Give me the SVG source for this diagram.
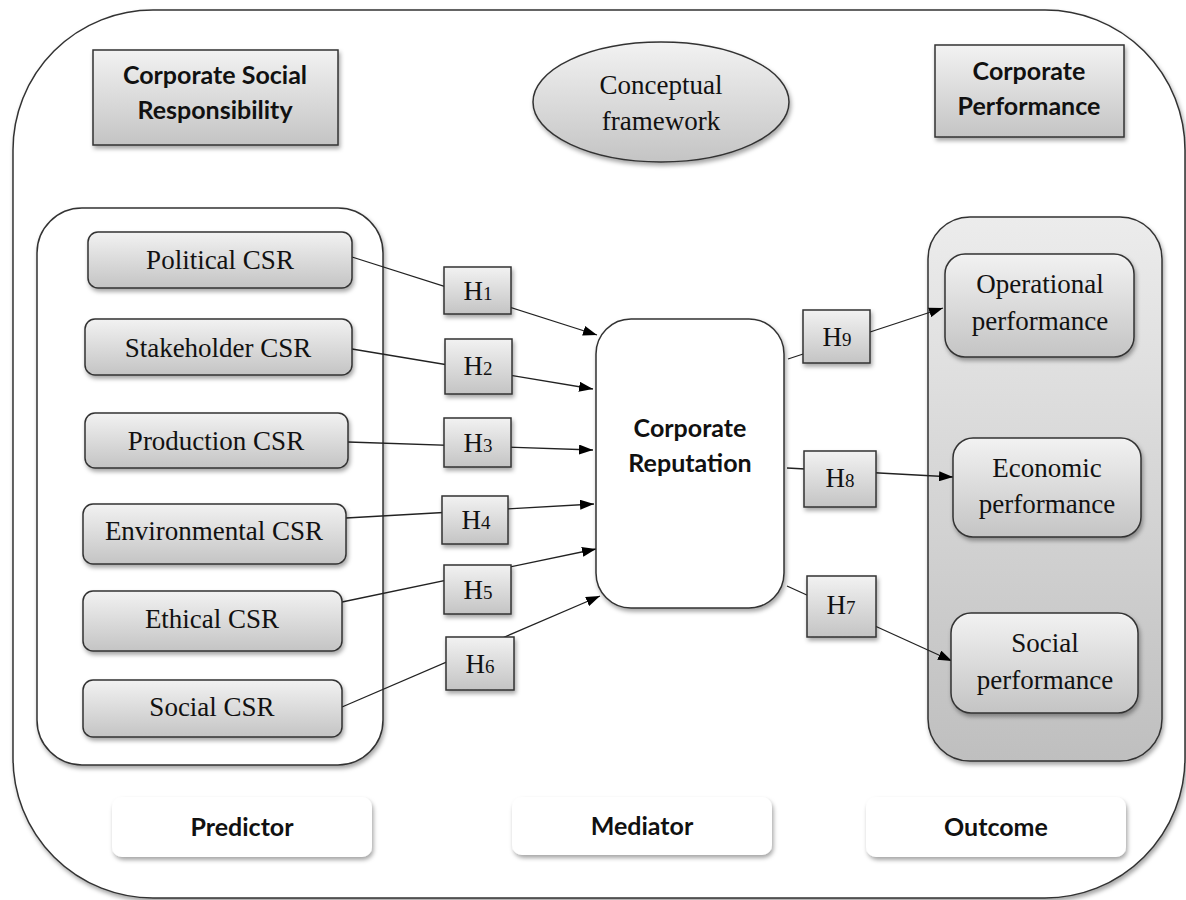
<svg xmlns="http://www.w3.org/2000/svg" width="1186" height="900" viewBox="0 0 1186 900">
  <defs>
    <linearGradient id="gBox" x1="0" y1="0" x2="0" y2="1">
      <stop offset="0" stop-color="#f2f2f2"/>
      <stop offset="1" stop-color="#c4c4c4"/>
    </linearGradient>
    <linearGradient id="gPanel" x1="0" y1="0" x2="0" y2="1">
      <stop offset="0" stop-color="#ececec"/>
      <stop offset="1" stop-color="#bfbfbf"/>
    </linearGradient>
    <filter id="shadow" x="-10%" y="-10%" width="130%" height="140%">
      <feDropShadow dx="1.5" dy="3" stdDeviation="2" flood-color="#000" flood-opacity="0.35"/>
    </filter>
    <marker id="arrow" viewBox="0 0 14 10" refX="14" refY="5" markerWidth="14" markerHeight="10" markerUnits="userSpaceOnUse" orient="auto">
      <path d="M0,0 L14,5 L0,10 Z" fill="#000"/>
    </marker>
    <style>
      .frame { fill: #fff; stroke: #333; stroke-width: 1.5; }
      .box { fill: url(#gBox); stroke: #333; stroke-width: 1.5; filter: url(#shadow); }
      .panel { fill: url(#gPanel); stroke: #333; stroke-width: 1.5; filter: url(#shadow); }
      .plain { fill: #fff; stroke: #333; stroke-width: 1.5; filter: url(#shadow); }
      .tag { fill: #fff; stroke: none; filter: url(#shadow); }
      .serif { font-family: "Liberation Serif", "Times New Roman", serif; font-size: 27px; fill: #111; text-anchor: middle; }
      .bold { font-family: Lato, "Open Sans", "Liberation Sans", sans-serif; font-weight: bold; font-size: 25px; fill: #111; text-anchor: middle; }
      .sub { font-size: 19px; }
      .edge { stroke: #222; stroke-width: 1.3; fill: none; }
      .edge.arr { marker-end: url(#arrow); }
    </style>
  </defs>

  <!-- outer frame -->
  <rect id="frame" class="frame" x="13" y="10" width="1172" height="888" rx="140" ry="140" filter="url(#shadow)"/>

  <!-- headings -->
  <g id="csr-title">
    <rect class="box" x="93" y="50" width="245" height="95"/>
    <text class="bold" x="215" y="84">Corporate Social</text>
    <text class="bold" x="215" y="119">Responsibility</text>
  </g>
  <g id="concept">
    <ellipse class="box" cx="661" cy="102" rx="128" ry="60"/>
    <text class="serif" x="661" y="94">Conceptual</text>
    <text class="serif" x="661" y="130">framework</text>
  </g>
  <g id="cp-title">
    <rect class="box" x="935" y="45" width="189" height="92"/>
    <text class="bold" x="1029" y="80">Corporate</text>
    <text class="bold" x="1029" y="115">Performance</text>
  </g>

  <!-- predictor group -->
  <g id="predictors">
    <rect class="plain" x="37" y="208" width="346" height="557" rx="45" ry="45"/>
  </g>

  <!-- outcome group -->
  <g id="outcomes">
    <rect class="panel" x="928" y="217" width="234" height="544" rx="42" ry="42"/>
  </g>

  <!-- connectors -->
  <g id="connectors">
    <line class="edge arr" x1="352" y1="257" x2="597" y2="335"/>
    <line class="edge arr" x1="352" y1="349" x2="593" y2="389"/>
    <line class="edge arr" x1="348" y1="442" x2="593" y2="450"/>
    <line class="edge arr" x1="346" y1="518" x2="594" y2="504"/>
    <line class="edge arr" x1="342" y1="602" x2="596" y2="549"/>
    <line class="edge arr" x1="342" y1="707" x2="600" y2="596"/>
    <line class="edge arr" x1="788" y1="359" x2="943" y2="308"/>
    <line class="edge arr" x1="787" y1="468" x2="953" y2="477"/>
    <line class="edge arr" x1="787" y1="586" x2="952" y2="661"/>
  </g>

  <!-- CSR dimensions -->
  <g id="political-csr">
    <rect class="box" x="88" y="232" width="264" height="56" rx="10"/>
    <text class="serif" x="220" y="269">Political CSR</text>
  </g>
  <g id="stakeholder-csr">
    <rect class="box" x="85" y="319" width="267" height="56" rx="10"/>
    <text class="serif" x="218" y="357">Stakeholder CSR</text>
  </g>
  <g id="production-csr">
    <rect class="box" x="85" y="413" width="263" height="55" rx="10"/>
    <text class="serif" x="216" y="450">Production CSR</text>
  </g>
  <g id="environmental-csr">
    <rect class="box" x="83" y="504" width="263" height="60" rx="10"/>
    <text class="serif" x="214" y="540">Environmental CSR</text>
  </g>
  <g id="ethical-csr">
    <rect class="box" x="83" y="591" width="259" height="60" rx="10"/>
    <text class="serif" x="212" y="628">Ethical CSR</text>
  </g>
  <g id="social-csr">
    <rect class="box" x="83" y="680" width="259" height="57" rx="10"/>
    <text class="serif" x="212" y="716">Social CSR</text>
  </g>

  <!-- hypotheses -->
  <g id="h1"><rect class="box" x="444" y="267" width="67" height="47"/><text class="serif" x="478" y="300">H<tspan class="sub">1</tspan></text></g>
  <g id="h2"><rect class="box" x="445" y="339" width="67" height="55"/><text class="serif" x="478" y="375">H<tspan class="sub">2</tspan></text></g>
  <g id="h3"><rect class="box" x="444" y="418" width="67" height="49"/><text class="serif" x="478" y="452">H<tspan class="sub">3</tspan></text></g>
  <g id="h4"><rect class="box" x="442" y="496" width="66" height="48"/><text class="serif" x="476" y="529">H<tspan class="sub">4</tspan></text></g>
  <g id="h5"><rect class="box" x="444" y="565" width="67" height="49"/><text class="serif" x="478" y="599">H<tspan class="sub">5</tspan></text></g>
  <g id="h6"><rect class="box" x="446" y="637" width="68" height="53"/><text class="serif" x="480" y="673">H<tspan class="sub">6</tspan></text></g>
  <g id="h9"><rect class="box" x="803" y="310" width="67" height="53"/><text class="serif" x="837" y="346">H<tspan class="sub">9</tspan></text></g>
  <g id="h8"><rect class="box" x="804" y="451" width="72" height="56"/><text class="serif" x="840" y="487">H<tspan class="sub">8</tspan></text></g>
  <g id="h7"><rect class="box" x="807" y="576" width="69" height="61"/><text class="serif" x="841" y="614">H<tspan class="sub">7</tspan></text></g>

  <!-- mediator -->
  <g id="reputation">
    <rect class="plain" x="596" y="319" width="188" height="289" rx="35" ry="35"/>
    <text class="bold" x="690" y="437" font-size="26">Corporate</text>
    <text class="bold" x="690" y="472" font-size="26">Reputation</text>
  </g>

  <!-- performance dimensions -->
  <g id="operational">
    <rect class="box" x="945" y="254" width="189" height="103" rx="20"/>
    <text class="serif" x="1040" y="293">Operational</text>
    <text class="serif" x="1040" y="330">performance</text>
  </g>
  <g id="economic">
    <rect class="box" x="953" y="438" width="188" height="99" rx="20"/>
    <text class="serif" x="1047" y="477">Economic</text>
    <text class="serif" x="1047" y="513">performance</text>
  </g>
  <g id="social-perf">
    <rect class="box" x="951" y="613" width="187" height="100" rx="20"/>
    <text class="serif" x="1045" y="652">Social</text>
    <text class="serif" x="1045" y="689">performance</text>
  </g>

  <!-- role labels -->
  <g id="predictor-label">
    <rect class="tag" x="112" y="797" width="260" height="60" rx="10"/>
    <text class="bold" x="242" y="836">Predictor</text>
  </g>
  <g id="mediator-label">
    <rect class="tag" x="512" y="797" width="260" height="58" rx="10"/>
    <text class="bold" x="642" y="835">Mediator</text>
  </g>
  <g id="outcome-label">
    <rect class="tag" x="866" y="797" width="260" height="60" rx="10"/>
    <text class="bold" x="996" y="836">Outcome</text>
  </g>
</svg>
